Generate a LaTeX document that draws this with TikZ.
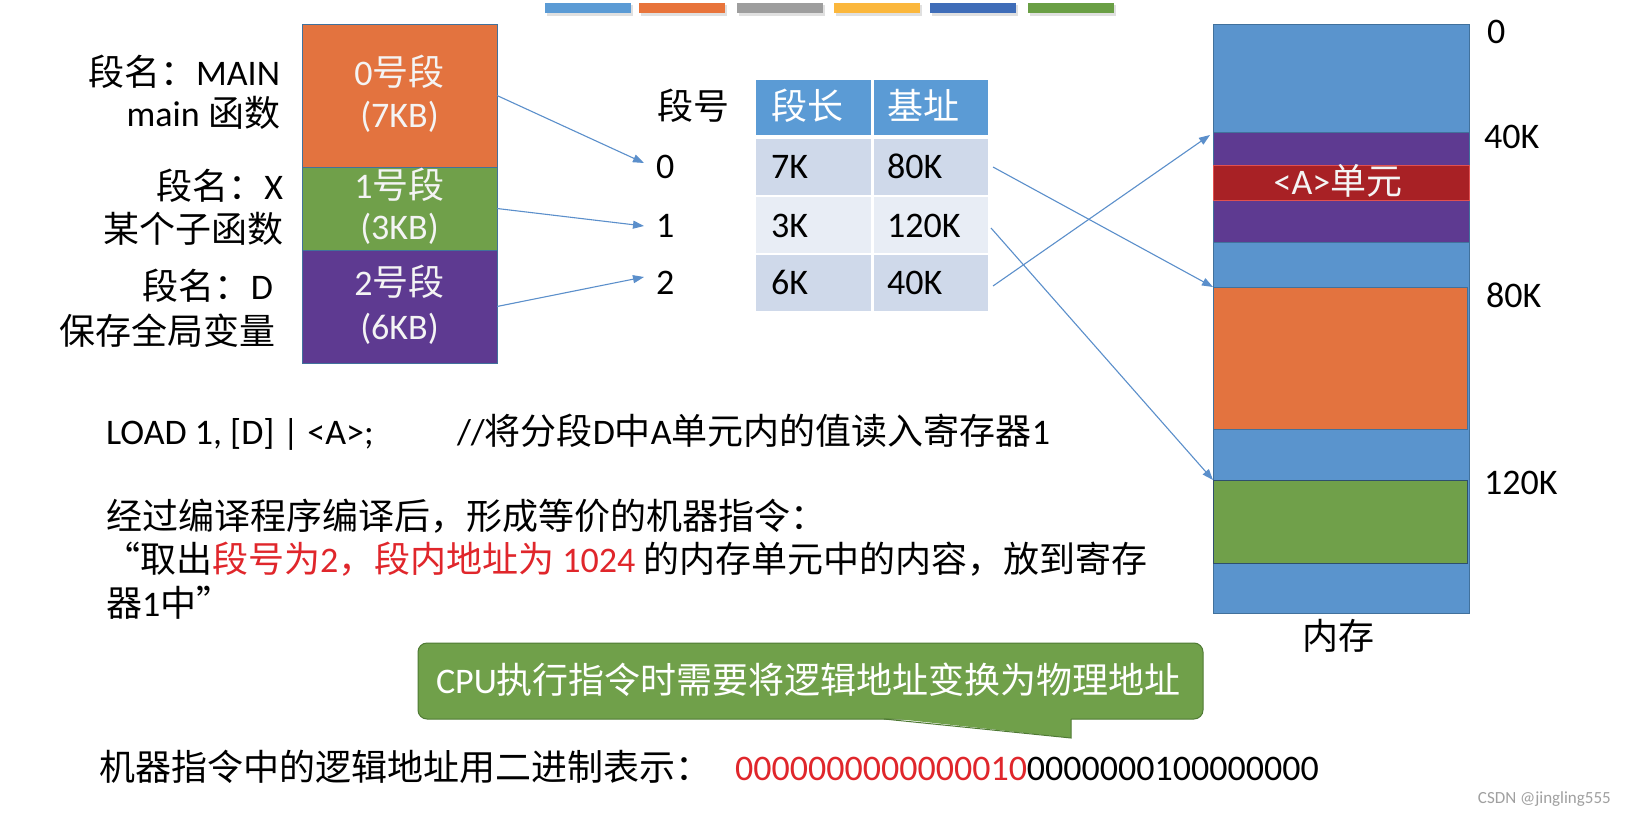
\documentclass[tikz,border=0pt]{standalone}
\usepackage{fontspec}
\setmainfont{Carlito}
\newfontfamily\zh{Noto Sans CJK SC}
\usetikzlibrary{arrows.meta}
\newcommand\fs{\fontsize{36}{43}\selectfont}
\definecolor{bara}{HTML}{5B9BD5}
\definecolor{barb}{HTML}{E8743B}
\definecolor{barc}{HTML}{9E9E9E}
\definecolor{bard}{HTML}{FBB73C}
\definecolor{bare}{HTML}{3F6DB8}
\definecolor{barf}{HTML}{6A9F45}
\definecolor{segorange}{HTML}{E3733F}
\definecolor{seggreen}{HTML}{70A04A}
\definecolor{segpurple}{HTML}{5E3A91}
\definecolor{segborder}{HTML}{41719C}
\definecolor{memblue}{HTML}{5A94CD}
\definecolor{memred}{HTML}{A82125}
\definecolor{memredborder}{HTML}{E05050}
\definecolor{thead}{HTML}{5B9BD5}
\definecolor{rowdark}{HTML}{CFD9EA}
\definecolor{rowlight}{HTML}{E8EDF5}
\definecolor{arrowblue}{HTML}{5B8FCB}
\definecolor{callgreen}{HTML}{70A04A}
\definecolor{callborder}{HTML}{4F7A34}
\definecolor{txtred}{HTML}{E0262B}
\definecolor{boxtext}{HTML}{F4F4F4}
\definecolor{wmark}{HTML}{A0A0A0}
\begin{document}
\begin{tikzpicture}[x=1pt,y=-1pt,
  txt/.style={inner sep=0pt,outer sep=0pt,font=\fs},
  wtxt/.style={txt,text=boxtext},
  blk/.style={inner sep=0pt,outer sep=0pt,draw=segborder,line width=0.8pt},
  cell/.style={inner sep=0pt,outer sep=0pt,minimum height=56pt},
  arr/.style={draw=arrowblue,line width=1.1pt,-{Triangle[length=11pt,width=8pt]}},
]
\fill[white] (0,0) rectangle (1627,816);
\useasboundingbox (0,0) rectangle (1627,816);

% top colour bars
\foreach \x/\c in {545/bara,639/barb,737/barc,834/bard,930/bare,1028/barf}{
  \fill[black!12] (\x+2,5) rectangle (\x+88,16);
  \fill[\c] (\x,3) rectangle (\x+86,13);
}

% logical segments
\node[blk,fill=segorange,minimum width=195pt,minimum height=143pt] (seg0) at (399.5,95.5) {};
\node[blk,fill=seggreen,minimum width=195pt,minimum height=83pt] (seg1) at (399.5,208.5) {};
\node[blk,fill=segpurple,minimum width=195pt,minimum height=113pt] (seg2) at (399.5,306.5) {};
\node[wtxt,anchor=base] (s0a) at (399.5,85) {0{\zh 号段}};
\node[wtxt,anchor=base] (s0b) at (399.5,127) {(7KB)};
\node[wtxt,anchor=base] (s1a) at (399.5,198) {1{\zh 号段}};
\node[wtxt,anchor=base] (s1b) at (399.5,239) {(3KB)};
\node[wtxt,anchor=base] (s2a) at (399.5,295) {2{\zh 号段}};
\node[wtxt,anchor=base] (s2b) at (399.5,339) {(6KB)};

% left labels
\node[txt,anchor=base east] (l0a) at (280,85) {{\zh 段名：}MAIN};
\node[txt,anchor=base east] (l0b) at (280,126) {main {\zh 函数}};
\node[txt,anchor=base east] (l1a) at (283,199) {{\zh 段名：}X};
\node[txt,anchor=base east] (l1b) at (283,242) {\zh 某个子函数};
\node[txt,anchor=base east] (l2a) at (273,299) {{\zh 段名：}D};
\node[txt,anchor=base east] (l2b) at (275,344) {\zh 保存全局变量};

% segment table
\node[txt,anchor=base west] (hnum) at (657,119) {\zh 段号};
\node[cell,fill=thead,minimum width=115pt,minimum height=55pt] (ha) at (813.5,107.5) {};
\node[cell,fill=thead,minimum width=114pt,minimum height=55pt] (hb) at (931,107.5) {};
\node[cell,fill=rowdark,minimum width=115pt] (r1a) at (813.5,167) {};
\node[cell,fill=rowdark,minimum width=114pt] (r1b) at (931,167) {};
\node[cell,fill=rowlight,minimum width=115pt] (r2a) at (813.5,225) {};
\node[cell,fill=rowlight,minimum width=114pt] (r2b) at (931,225) {};
\node[cell,fill=rowdark,minimum width=115pt] (r3a) at (813.5,283) {};
\node[cell,fill=rowdark,minimum width=114pt] (r3b) at (931,283) {};
\node[txt,text=white,anchor=base west] (hat) at (771,119) {\zh 段长};
\node[txt,text=white,anchor=base west] (hbt) at (887,119) {\zh 基址};
\node[txt,anchor=base west] (n0) at (656,178) {0};
\node[txt,anchor=base west] (n1) at (656,237) {1};
\node[txt,anchor=base west] (n2) at (656,294) {2};
\node[txt,anchor=base west] (t1a) at (771,178) {7K};
\node[txt,anchor=base west] (t1b) at (887,178) {80K};
\node[txt,anchor=base west] (t2a) at (771,237) {3K};
\node[txt,anchor=base west] (t2b) at (887,237) {120K};
\node[txt,anchor=base west] (t3a) at (771,294) {6K};
\node[txt,anchor=base west] (t3b) at (887,294) {40K};

% memory
\node[inner sep=0pt,outer sep=0pt,draw=segborder,line width=0.8pt,fill=memblue,minimum width=256pt,minimum height=589pt] (mem) at (1341,318.5) {};
\node[inner sep=0pt,outer sep=0pt,draw=segborder,line width=0.6pt,fill=segpurple,minimum width=256pt,minimum height=110pt] (mpurple) at (1341,187) {};
\node[inner sep=0pt,outer sep=0pt,draw=memredborder,line width=0.8pt,fill=memred,minimum width=256pt,minimum height=35pt] (mred) at (1341,182.5) {};
\node[inner sep=0pt,outer sep=0pt,draw=segborder,line width=0.6pt,fill=segorange,minimum width=254pt,minimum height=142pt] (morange) at (1340,358) {};
\node[inner sep=0pt,outer sep=0pt,draw=segborder!70!black,line width=0.6pt,fill=seggreen,minimum width=254pt,minimum height=83pt] (mgreen) at (1340,521.5) {};
\node[wtxt,anchor=base] (aunit) at (1338,194) {<A>{\zh 单元}};
\node[txt,anchor=base west] (m0) at (1487,44) {0};
\node[txt,anchor=base west] (m40) at (1484,148) {40K};
\node[txt,anchor=base west] (m80) at (1486,307) {80K};
\node[txt,anchor=base west] (m120) at (1484,494) {120K};
\node[txt,anchor=base] (memlbl) at (1338,649) {\zh 内存};

% arrows
\coordinate (e0) at (644,163);
\coordinate (e1) at (644,226);
\coordinate (e2) at (644,277);
\draw[arr] (seg0.east) -- (e0);
\draw[arr] (seg1.east) -- (e1);
\draw[arr] (seg2.east) -- (e2);
\draw[arr] ([xshift=5pt]r1b.east) -- (morange.north west);
\draw[arr] ([xshift=3pt,yshift=-3pt]r2b.east) -- (mgreen.north west);
\draw[arr] ([xshift=5pt,yshift=-3pt]r3b.east) -- ([xshift=-3pt,yshift=-3pt]mpurple.north west);

% instruction text
\node[txt,anchor=base west] (load) at (106,444) {LOAD 1, [D] | <A>;};
\node[txt,anchor=base west] (cmt) at (457,444) {//{\zh 将分段}D{\zh 中}A{\zh 单元内的值读入寄存器}1};
\node[txt,anchor=base west] (comp) at (106,529) {\zh 经过编译程序编译后，形成等价的机器指令：};
\node[txt,anchor=base west] (quote1) at (104,572) {{\zh “取出}\textcolor{txtred}{{\zh 段号为}2{\zh ，段内地址为} 1024} {\zh 的内存单元中的内容，放到寄存}};
\node[txt,anchor=base west] (quote2) at (106,616) {{\zh 器}1{\zh 中”}};

% callout
\draw[draw=callborder,fill=callgreen,line width=1pt,rounded corners=9pt] (418,643) rectangle (1203,719);
\fill[callgreen] (884,717.5) -- (1071,717.5) -- (1071,738) -- cycle;
\draw[draw=callborder,line width=1pt] (884,719) -- (1071,738) -- (1071,719);
\node[txt,text=white,anchor=base west] (cpu) at (436,693) {CPU{\zh 执行指令时需要将逻辑地址变换为物理地址}};

% bottom line
\node[txt,anchor=base west] (bin) at (99,780) {\zh 机器指令中的逻辑地址用二进制表示：};
\node[txt,anchor=base west] (binv) at (735,780) {\textcolor{txtred}{0000000000000010}0000000100000000};
\node[inner sep=0pt,anchor=base east,text=wmark,font=\fontsize{17}{20}\selectfont] (wm) at (1611,803) {CSDN @jingling555};
\end{tikzpicture}
\end{document}
